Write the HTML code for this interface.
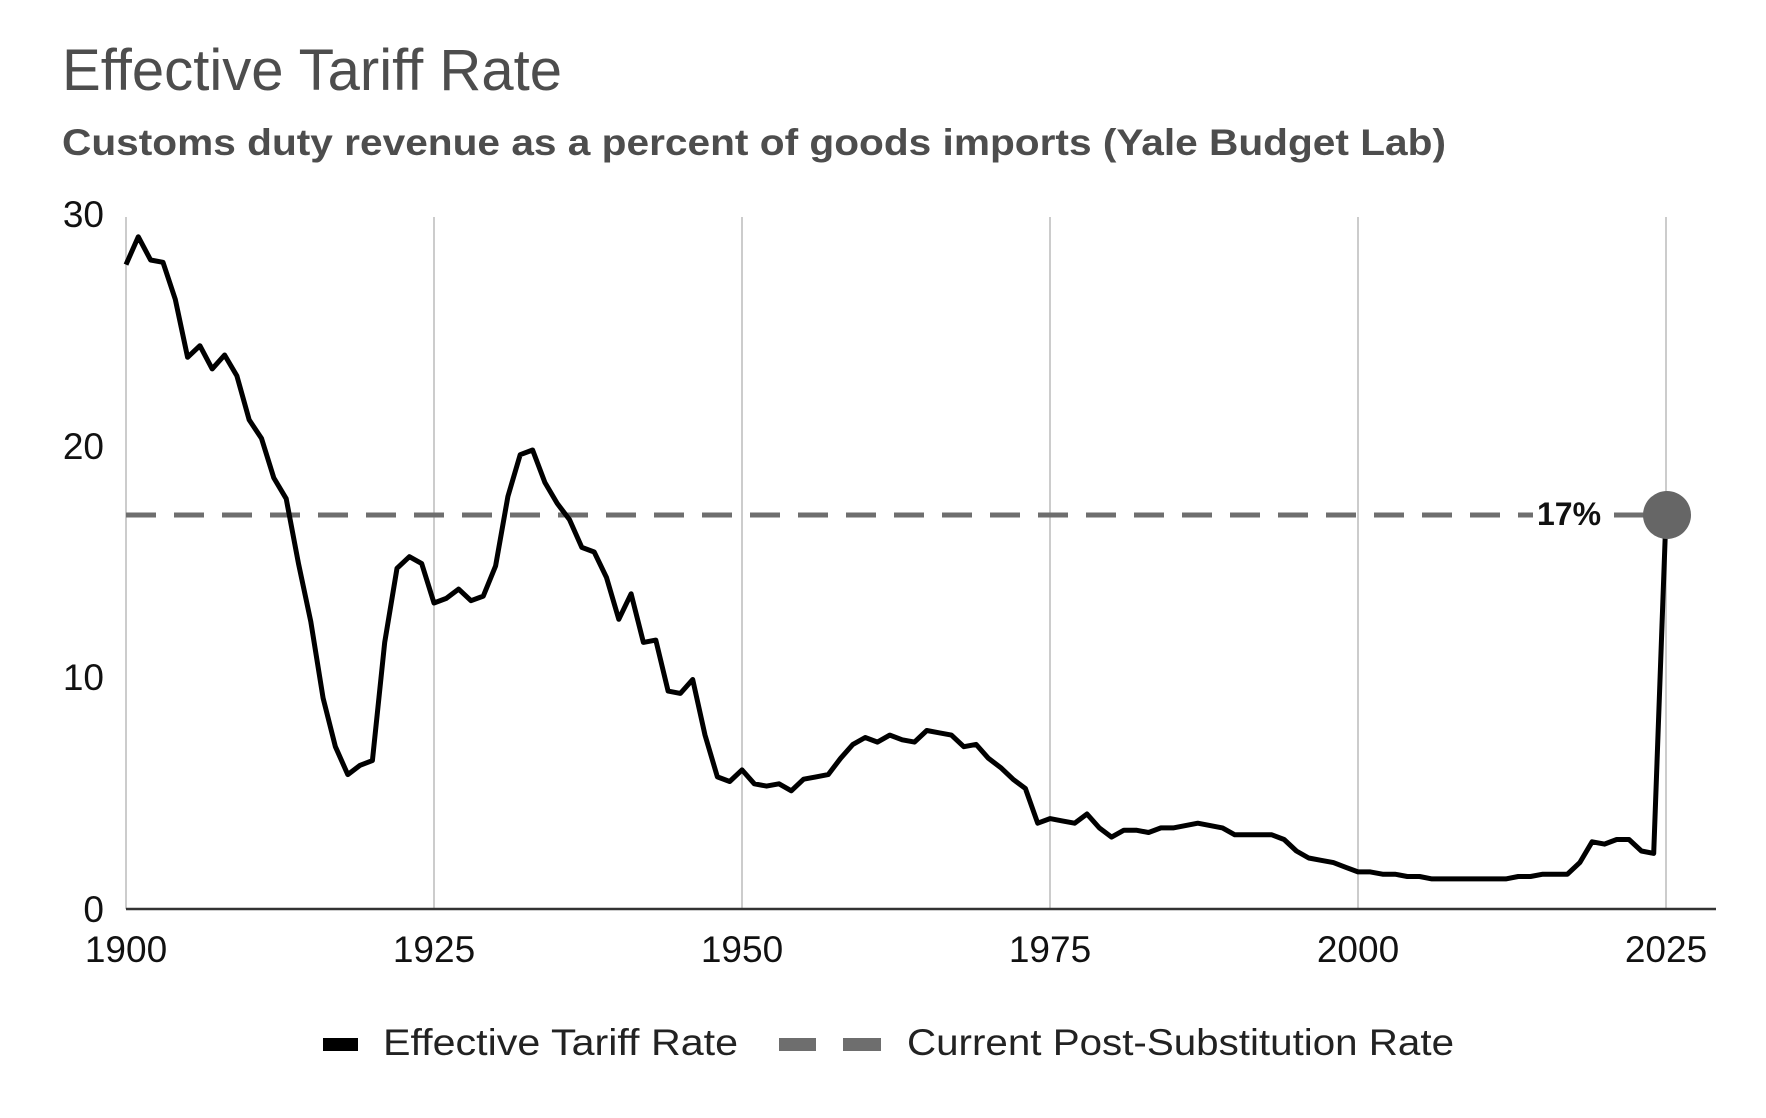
<!DOCTYPE html>
<html><head><meta charset="utf-8"><style>html,body{margin:0;padding:0;background:#fff}svg{display:block}</style></head>
<body>
<svg id="s" width="1766" height="1118" viewBox="0 0 1766 1118" xmlns="http://www.w3.org/2000/svg" font-family="Liberation Sans, Arial, sans-serif">
<rect width="1766" height="1118" fill="#fff"/>
<text x="62" y="90" font-size="58" fill="#4d4d4d" textLength="500" lengthAdjust="spacingAndGlyphs">Effective Tariff Rate</text>
<text x="62" y="155" font-size="37" font-weight="bold" fill="#4d4d4d" textLength="1384" lengthAdjust="spacingAndGlyphs">Customs duty revenue as a percent of goods imports (Yale Budget Lab)</text>
<g stroke="#cccccc" stroke-width="2">
<line x1="126" y1="217" x2="126" y2="909"/>
<line x1="434" y1="217" x2="434" y2="909"/>
<line x1="742" y1="217" x2="742" y2="909"/>
<line x1="1050" y1="217" x2="1050" y2="909"/>
<line x1="1358" y1="217" x2="1358" y2="909"/>
<line x1="1666" y1="217" x2="1666" y2="909"/>
</g>
<line x1="126" y1="909" x2="1716" y2="909" stroke="#333" stroke-width="2.5"/>
<g font-size="37" fill="#111" text-anchor="end">
<text x="104" y="227">30</text><text x="104" y="459">20</text><text x="104" y="690">10</text><text x="104" y="922">0</text>
</g>
<g font-size="37" fill="#111" text-anchor="middle">
<text x="126" y="962">1900</text><text x="434" y="962">1925</text><text x="742" y="962">1950</text><text x="1050" y="962">1975</text><text x="1358" y="962">2000</text><text x="1666" y="962">2025</text>
</g>
<line x1="126" y1="515" x2="1666" y2="515" stroke="#6e6e6e" stroke-width="5" stroke-dasharray="30,18"/>
<rect x="1533" y="500" width="72" height="30" fill="#fff"/>
<text x="1537" y="525" font-size="32" font-weight="bold" fill="#111">17%</text>
<polyline id="ln" fill="none" stroke="#000" stroke-width="5" stroke-linejoin="round" points=""/>
<circle cx="1667" cy="515" r="24" fill="#666"/>
<rect x="323" y="1038" width="35" height="13" fill="#000"/>
<text x="383" y="1055" font-size="37" fill="#222" textLength="355" lengthAdjust="spacingAndGlyphs">Effective Tariff Rate</text>
<rect x="779" y="1038" width="37" height="13" fill="#6e6e6e"/>
<rect x="843" y="1038" width="38" height="13" fill="#6e6e6e"/>
<text x="907" y="1055" font-size="37" fill="#222" textLength="547" lengthAdjust="spacingAndGlyphs">Current Post-Substitution Rate</text>
</svg>
<script>
var d=[27.8,29.0,28.0,27.9,26.3,23.8,24.3,23.3,23.9,23.0,21.1,20.3,18.6,17.7,14.9,12.4,9.1,7.0,5.8,6.2,6.4,11.5,14.7,15.2,14.9,13.2,13.4,13.8,13.3,13.5,14.8,17.8,19.6,19.8,18.4,17.5,16.8,15.6,15.4,14.3,12.5,13.6,11.5,11.6,9.4,9.3,9.9,7.5,5.7,5.5,6.0,5.4,5.3,5.4,5.1,5.6,5.7,5.8,6.5,7.1,7.4,7.2,7.5,7.3,7.2,7.7,7.6,7.5,7.0,7.1,6.5,6.1,5.6,5.2,3.7,3.9,3.8,3.7,4.1,3.5,3.1,3.4,3.4,3.3,3.5,3.5,3.6,3.7,3.6,3.5,3.2,3.2,3.2,3.2,3.0,2.5,2.2,2.1,2.0,1.8,1.6,1.6,1.5,1.5,1.4,1.4,1.3,1.3,1.3,1.3,1.3,1.3,1.3,1.4,1.4,1.5,1.5,1.5,2.0,2.9,2.8,3.0,3.0,2.5,2.4,17.0];
var p=d.map(function(v,i){return (126+i*12.32).toFixed(1)+","+(909-v*23.18).toFixed(1)}).join(" ");
document.getElementById("ln").setAttribute("points",p);
</script>
</body></html>
